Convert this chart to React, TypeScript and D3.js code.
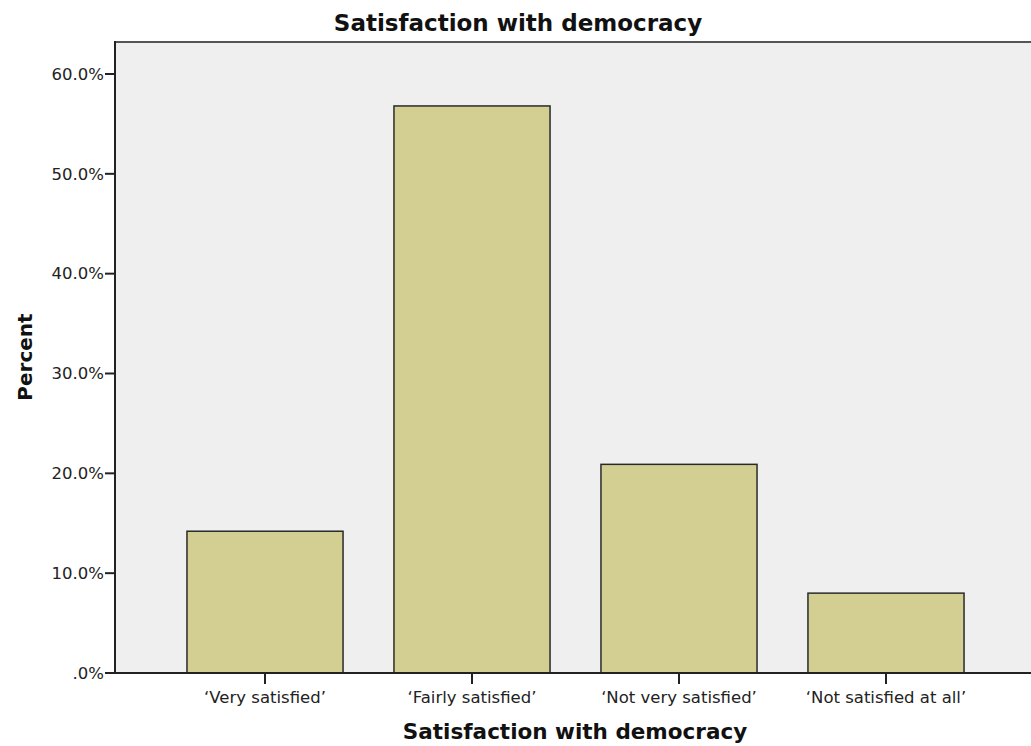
import React from "react";
import * as d3 from "d3";

const categories = ["‘Very satisfied’", "‘Fairly satisfied’", "‘Not very satisfied’", "‘Not satisfied at all’"];
const percents = [14.2, 56.8, 20.9, 8.0];
const yTicks = [0, 10, 20, 30, 40, 50, 60];

const W = 1031;
const H = 746;
const left = 115;
const right = 1036;
const top = 42;
const bottom = 673;
const FONT = "'DejaVu Sans', 'Open Sans', sans-serif";

export default function App() {
  const x = d3.scaleBand<string>().domain(categories).range([left, right]).paddingInner(0.246).paddingOuter(0.3477);
  const y = d3.scaleLinear().domain([0, 60]).range([bottom, bottom - 599]);
  const fmt = (v: number) => (v === 0 ? ".0%" : v.toFixed(1) + "%");
  return (
    <svg width={W} height={H} style={{ position: "absolute", left: 0, top: 0 }} fontFamily={FONT}>
      <rect x={0} y={0} width={W} height={H} fill="#ffffff" />
      <rect x={left} y={top} width={W - left} height={bottom - top} fill="#efefef" />
      <line x1={left} x2={W} y1={top} y2={top} stroke="#555" strokeWidth={2} />
      {categories.map((c, i) => (
        <rect
          key={c}
          x={x(c)}
          y={y(percents[i])}
          width={x.bandwidth()}
          height={bottom - y(percents[i])}
          fill="#d3cf93"
          stroke="#2a2a2a"
          strokeWidth={1.5}
        />
      ))}
      <line x1={left} x2={left} y1={top - 1} y2={bottom} stroke="#222" strokeWidth={2} />
      <line x1={left} x2={W} y1={bottom} y2={bottom} stroke="#222" strokeWidth={2} />
      {yTicks.map((t) => (
        <g key={t}>
          <line x1={left - 10} x2={left} y1={y(t)} y2={y(t)} stroke="#222" strokeWidth={2} />
          <text x={left - 11} y={y(t)} dy="0.35em" textAnchor="end" fontSize={16.5} fill="#222">
            {fmt(t)}
          </text>
        </g>
      ))}
      {categories.map((c) => {
        const cx = (x(c) as number) + x.bandwidth() / 2;
        return (
          <g key={c}>
            <line x1={cx} x2={cx} y1={bottom} y2={bottom + 11} stroke="#222" strokeWidth={2} />
            <text x={cx} y={bottom + 30} textAnchor="middle" fontSize={16.5} fill="#222">
              {c}
            </text>
          </g>
        );
      })}
      <text x={518} y={31} textAnchor="middle" fontSize={23} fontWeight="bold" fill="#111">
        Satisfaction with democracy
      </text>
      <text x={575} y={739} textAnchor="middle" fontSize={21.5} fontWeight="bold" fill="#111">
        Satisfaction with democracy
      </text>
      <text
        transform={`translate(32, 357) rotate(-90)`}
        textAnchor="middle"
        fontSize={20}
        fontWeight="bold"
        fill="#111"
      >
        Percent
      </text>
    </svg>
  );
}
